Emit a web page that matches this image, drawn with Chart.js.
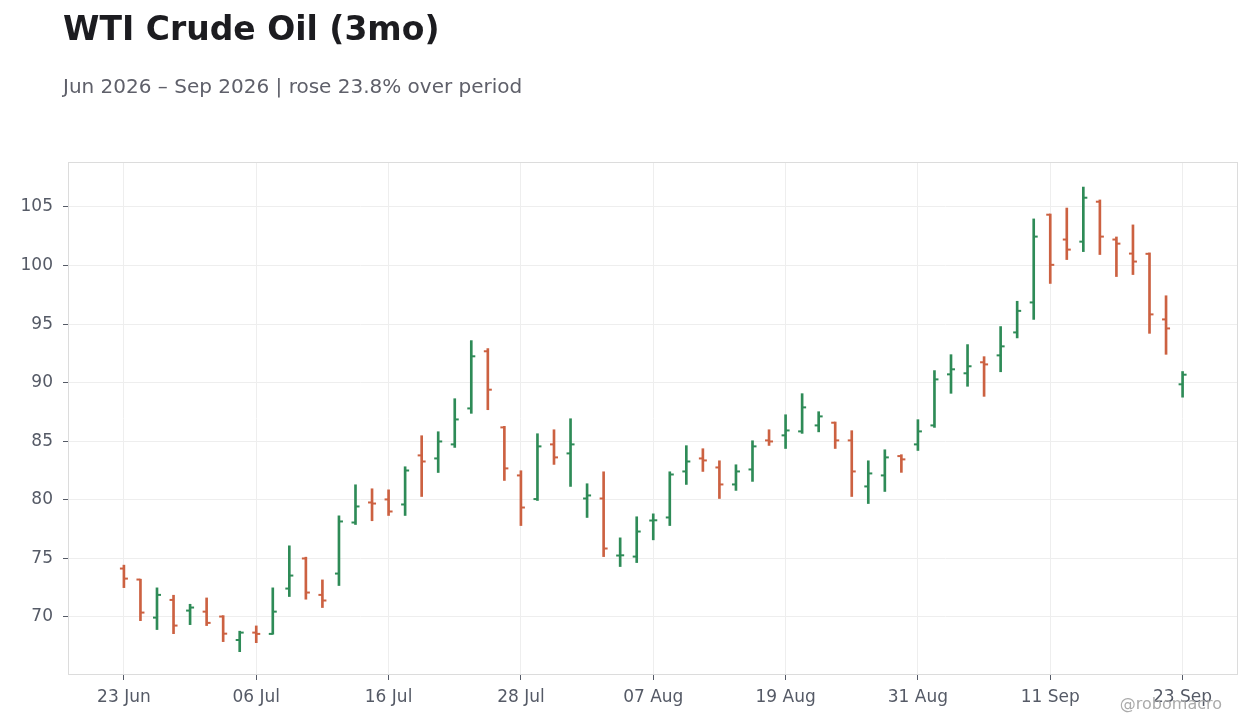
<!DOCTYPE html>
<html>
<head>
<meta charset="utf-8">
<script src="https://cdn.jsdelivr.net/npm/chart.js@4"></script>
<style>
  html, body { margin: 0; padding: 0; background: #fff; }
  #wrap { position: relative; width: 1260px; height: 728px; font-family: 'DejaVu Sans', sans-serif; }
  #title { position: absolute; left: 63px; top: 9px; font-size: 33px; font-weight: bold; color: #1c1c20; }
  #subtitle { position: absolute; left: 63px; top: 74px; font-size: 20px; color: #5f606a; }
  #mark { position: absolute; right: 38px; top: 694px; font-size: 16px; color: #ababab; }
  #box { position: absolute; left: 0; top: 0; width: 1260px; height: 728px; }
</style>
</head>
<body>
<div id="wrap">
  <div id="box"><canvas id="ohlc"></canvas></div>
  <div id="title">WTI Crude Oil (3mo)</div>
  <div id="subtitle">Jun 2026 – Sep 2026 | rose 23.8% over period</div>
  <div id="mark">@robomacro</div>
</div>
<script>
// trading days (Jul 3 and Sep 7 closed)
const dates = ['23 Jun','24 Jun','25 Jun','26 Jun','29 Jun','30 Jun',
  '01 Jul','02 Jul','06 Jul','07 Jul','08 Jul','09 Jul','10 Jul','13 Jul','14 Jul','15 Jul','16 Jul','17 Jul',
  '20 Jul','21 Jul','22 Jul','23 Jul','24 Jul','27 Jul','28 Jul','29 Jul','30 Jul','31 Jul',
  '03 Aug','04 Aug','05 Aug','06 Aug','07 Aug','10 Aug','11 Aug','12 Aug','13 Aug','14 Aug',
  '17 Aug','18 Aug','19 Aug','20 Aug','21 Aug','24 Aug','25 Aug','26 Aug','27 Aug','28 Aug','31 Aug',
  '01 Sep','02 Sep','03 Sep','04 Sep','08 Sep','09 Sep','10 Sep','11 Sep','14 Sep','15 Sep',
  '16 Sep','17 Sep','18 Sep','21 Sep','22 Sep','23 Sep'];

const opens = [74.13, 73.19, 69.94, 71.45, 70.54, 70.45, 70.03, 68.03, 68.66, 68.55,
  72.42, 74.99, 71.88, 73.70, 78.06, 79.77, 80.03, 79.60, 83.79, 83.53,
  84.73, 87.80, 92.68, 86.18, 82.08, 80.06, 84.73, 83.96, 80.11, 80.11,
  75.24, 75.15, 78.23, 78.49, 82.42, 83.53, 82.76, 81.31, 82.59, 85.07,
  85.50, 85.84, 86.35, 86.58, 85.07, 81.14, 82.08, 83.73, 84.73, 86.35,
  90.71, 90.80, 91.74, 92.33, 94.29, 96.85, 104.34, 102.22, 102.04, 105.45,
  102.22, 101.02, 101.00, 95.40, 89.86];

const highs = [74.42, 73.22, 72.48, 71.85, 71.08, 71.62, 70.11, 68.78, 69.23, 72.48,
  76.07, 75.10, 73.16, 78.63, 81.28, 80.94, 80.85, 82.82, 85.47, 85.81,
  88.63, 93.59, 92.91, 86.27, 82.48, 85.64, 85.98, 86.92, 81.37, 82.39,
  76.75, 78.55, 78.80, 82.39, 84.62, 84.36, 83.33, 82.99, 85.04, 85.98,
  87.26, 89.06, 87.52, 86.64, 85.90, 83.33, 84.27, 83.85, 86.84, 91.03,
  92.39, 93.25, 92.22, 94.79, 96.95, 103.98, 104.40, 104.91, 106.70, 105.60,
  102.44, 103.47, 101.08, 97.42, 90.95];

const lows = [72.50, 69.68, 68.92, 68.57, 69.34, 69.26, 67.89, 67.03, 67.80, 68.52,
  71.74, 71.51, 70.80, 72.68, 77.89, 78.21, 78.66, 78.66, 80.28, 82.33,
  84.47, 87.38, 87.69, 81.65, 77.80, 79.94, 83.02, 81.14, 78.49, 75.15,
  74.30, 74.64, 76.58, 77.80, 81.31, 82.42, 80.11, 80.80, 81.57, 84.64,
  84.38, 85.67, 85.80, 84.38, 80.28, 79.68, 80.71, 82.34, 84.21, 86.18,
  89.09, 89.69, 88.83, 90.93, 93.82, 95.40, 98.47, 100.51, 101.19, 100.94,
  99.06, 99.23, 94.21, 92.42, 88.76];

const closes = [73.27, 70.37, 71.88, 69.26, 70.80, 69.49, 68.57, 68.66, 68.55, 70.45,
  73.53, 72.08, 71.40, 78.15, 79.43, 79.68, 79.00, 82.50, 83.27, 84.98,
  86.86, 92.25, 89.40, 82.68, 79.34, 84.56, 83.62, 84.73, 80.37, 75.84,
  75.26, 77.29, 78.25, 82.16, 83.27, 83.36, 81.31, 82.42, 84.56, 84.98,
  85.92, 87.89, 87.12, 85.07, 82.42, 82.25, 83.62, 83.45, 85.84, 90.28,
  91.14, 91.40, 91.56, 93.10, 96.13, 102.47, 100.06, 101.36, 105.79, 102.47,
  101.87, 100.34, 95.83, 94.63, 90.68];

const upColor = '#2e8b57';
const downColor = '#cc6141';

const barColors = closes.map((c, i) => c >= opens[i] ? upColor : downColor);

Chart.defaults.font.family = "'DejaVu Sans', sans-serif";
Chart.defaults.color = '#555a66';

// open tick to the left, close tick to the right, placed via the scales
const ohlcTicks = {
  id: 'ohlcTicks',
  afterDatasetsDraw(chart) {
    const ctx = chart.ctx;
    const xs = chart.scales.x, ys = chart.scales.y;
    ctx.save();
    ctx.lineWidth = 2;
    opens.forEach((o, i) => {
      const x = xs.getPixelForValue(i);
      ctx.strokeStyle = barColors[i];
      let y = ys.getPixelForValue(o);
      ctx.beginPath(); ctx.moveTo(x - 4, y); ctx.lineTo(x, y); ctx.stroke();
      y = ys.getPixelForValue(closes[i]);
      ctx.beginPath(); ctx.moveTo(x, y); ctx.lineTo(x + 4, y); ctx.stroke();
    });
    ctx.restore();
  }
};

const frame = {
  id: 'frame',
  afterDraw(chart) {
    const a = chart.chartArea, ctx = chart.ctx;
    ctx.save();
    ctx.strokeStyle = '#dcdcdc';
    ctx.lineWidth = 1;
    ctx.strokeRect(a.left + 0.5, a.top + 0.5, a.right - a.left - 1, a.bottom - a.top - 1);
    ctx.restore();
  }
};

new Chart(document.getElementById('ohlc'), {
  type: 'bar',
  data: {
    datasets: [{
      data: lows.map((l, i) => ({ x: i, y: [l, highs[i]] })),
      backgroundColor: barColors,
      barThickness: 2,
      borderWidth: 0
    }]
  },
  options: {
    responsive: true,
    maintainAspectRatio: false,
    animation: false,
    layout: { padding: { top: 162, right: 22, left: 0, bottom: 0 } },
    plugins: { legend: { display: false }, tooltip: { enabled: false } },
    scales: {
      x: {
        type: 'linear',
        offset: false,
        min: -3.38,
        max: 67.35,
        afterFit(s) { s.height = 53; },
        border: { display: false },
        grid: { offset: false, color: '#eeeeee', tickColor: '#555a66', tickLength: 5 },
        ticks: {
          stepSize: 8,
          includeBounds: false,
          padding: 7,
          font: { size: 17 },
          maxRotation: 0,
          callback: v => dates[v] || ''
        }
      },
      y: {
        min: 65.04,
        max: 108.84,
        afterFit(s) { s.width = 68; },
        border: { display: false },
        grid: { color: '#eeeeee', tickColor: '#555a66', tickLength: 5 },
        ticks: {
          stepSize: 5,
          includeBounds: false,
          padding: 10,
          font: { size: 17 }
        }
      }
    }
  },
  plugins: [ohlcTicks, frame]
});
</script>
</body>
</html>
